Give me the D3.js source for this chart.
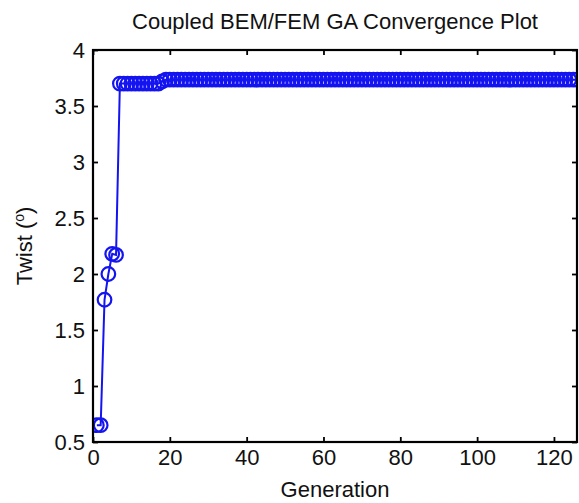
<!DOCTYPE html>
<html>
<head>
<meta charset="utf-8">
<script src="https://cdn.jsdelivr.net/npm/d3@7"></script>
<style>
  body { margin: 0; background: #fff; }
  text { font-family: "Liberation Sans", Arial, sans-serif; fill: #111; }
</style>
</head>
<body>
<script>
const w = 579;
const h = 503;
const margin = { top: 50, right: 1, bottom: 61, left: 93 };

const titleText = "Coupled BEM/FEM GA Convergence Plot";
const xLabel = "Generation";
const xTicks = [0, 20, 40, 60, 80, 100, 120];
const yTicks = [0.5, 1, 1.5, 2, 2.5, 3, 3.5, 4];

// best twist per generation (gen 1..126)
const twist = [
  0.65, 0.65, 1.77, 2.00, 2.18, 2.17, 3.70, 3.70, 3.70, 3.70, 3.70, 3.70,
  3.70, 3.70, 3.70, 3.70, 3.70, 3.72, 3.735, 3.735, 3.735, 3.735, 3.735, 3.735,
  3.735, 3.735, 3.735, 3.735, 3.735, 3.735, 3.735, 3.735, 3.735, 3.735, 3.735, 3.735,
  3.735, 3.735, 3.735, 3.735, 3.735, 3.735, 3.735, 3.735, 3.735, 3.735, 3.735, 3.735,
  3.735, 3.735, 3.735, 3.735, 3.735, 3.735, 3.735, 3.735, 3.735, 3.735, 3.735, 3.735,
  3.735, 3.735, 3.735, 3.735, 3.735, 3.735, 3.735, 3.735, 3.735, 3.735, 3.735, 3.735,
  3.735, 3.735, 3.735, 3.735, 3.735, 3.735, 3.735, 3.735, 3.735, 3.735, 3.735, 3.735,
  3.735, 3.735, 3.735, 3.735, 3.735, 3.735, 3.735, 3.735, 3.735, 3.735, 3.735, 3.735,
  3.735, 3.735, 3.735, 3.735, 3.735, 3.735, 3.735, 3.735, 3.735, 3.735, 3.735, 3.735,
  3.735, 3.735, 3.735, 3.735, 3.735, 3.735, 3.735, 3.735, 3.735, 3.735, 3.735, 3.735,
  3.735, 3.735, 3.735, 3.735, 3.735, 3.735
];
const data = twist.map((v, i) => ({ gen: i + 1, v: v }));

const blue = "#1414f0";

const svg = d3.select("body")
  .append("svg")
  .attr("width", w)
  .attr("height", h);

const x = d3.scaleLinear().domain([0, 126]).range([margin.left, w - margin.right - 1]);
const y = d3.scaleLinear().domain([0.5, 4]).range([h - margin.bottom, margin.top]);

const x0 = x.range()[0], x1 = x.range()[1];
const y0 = y.range()[0], y1 = y.range()[1];

// data line + markers (clipped to plot box)
svg.append("clipPath").attr("id", "clip")
  .append("rect")
  .attr("x", x0).attr("y", y1)
  .attr("width", x1 - x0).attr("height", y0 - y1);

const plot = svg.append("g").attr("clip-path", "url(#clip)");

plot.append("path")
  .datum(data)
  .attr("fill", "none")
  .attr("stroke", blue)
  .attr("stroke-width", 2)
  .attr("d", d3.line().x(d => x(d.gen)).y(d => y(d.v)));

plot.selectAll("circle")
  .data(data)
  .enter()
  .append("circle")
  .attr("cx", d => x(d.gen))
  .attr("cy", d => y(d.v))
  .attr("r", 6.8)
  .attr("fill", "none")
  .attr("stroke", blue)
  .attr("stroke-width", 2.2);

// axes, ticks inward, box style
const tickLen = 5;
svg.append("g")
  .attr("transform", "translate(0," + y0 + ")")
  .call(d3.axisBottom(x).tickValues(xTicks).tickSize(-tickLen).tickPadding(7).tickSizeOuter(0))
  .call(g => g.select(".domain").remove());
svg.append("g")
  .attr("transform", "translate(0," + y1 + ")")
  .call(d3.axisTop(x).tickValues(xTicks).tickSize(-tickLen).tickFormat("").tickSizeOuter(0))
  .call(g => g.select(".domain").remove());
svg.append("g")
  .attr("transform", "translate(" + x0 + ",0)")
  .call(d3.axisLeft(y).tickValues(yTicks).tickSize(-tickLen).tickPadding(8).tickFormat(d3.format("~g")).tickSizeOuter(0))
  .call(g => g.select(".domain").remove());
svg.append("g")
  .attr("transform", "translate(" + x1 + ",0)")
  .call(d3.axisRight(y).tickValues(yTicks).tickSize(-tickLen).tickFormat("").tickSizeOuter(0))
  .call(g => g.select(".domain").remove());

svg.selectAll(".tick line").attr("stroke", "#000").attr("stroke-width", 1.8);
svg.selectAll(".tick text")
  .style("font-family", "'Liberation Sans', Arial, sans-serif")
  .style("font-size", "22px")
  .attr("fill", "#111");

svg.append("rect")
  .attr("x", x0).attr("y", y1)
  .attr("width", x1 - x0).attr("height", y0 - y1)
  .attr("fill", "none")
  .attr("stroke", "#000")
  .attr("stroke-width", 2.2);

// labels
svg.append("text")
  .attr("x", (x0 + x1) / 2)
  .attr("y", 29)
  .attr("text-anchor", "middle")
  .style("font-size", "22px")
  .text(titleText);

svg.append("text")
  .attr("x", (x0 + x1) / 2)
  .attr("y", 497)
  .attr("text-anchor", "middle")
  .style("font-size", "22px")
  .text(xLabel);

const yl = svg.append("text")
  .attr("transform", "translate(32," + ((y0 + y1) / 2) + ") rotate(-90)")
  .attr("text-anchor", "middle")
  .style("font-size", "22px");
yl.append("tspan").text("Twist (");
yl.append("tspan").attr("dy", -8).style("font-size", "14px").text("o");
yl.append("tspan").attr("dy", 8).text(")");
</script>
</body>
</html>
